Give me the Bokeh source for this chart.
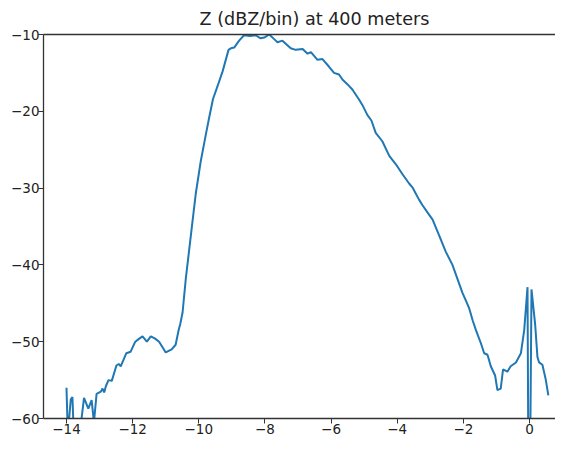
from bokeh.plotting import figure
from bokeh.models import Range1d, FixedTicker, LinearAxis
from bokeh.embed import file_html
from bokeh.resources import INLINE

title_text = "Z (dBZ/bin) at 400 meters"

doppler_velocity = [
    -14.00, -13.96, -13.87, -13.82, -13.78, -13.60, -13.47, -13.34, -13.24, -13.17,
    -13.09, -12.96, -12.91, -12.86, -12.81, -12.73, -12.63, -12.49, -12.42, -12.36,
    -12.19, -12.06, -11.92, -11.80, -11.70, -11.57, -11.45, -11.32, -11.20, -11.10,
    -11.00, -10.82, -10.70, -10.61, -10.56, -10.49, -10.39, -10.24, -10.09, -9.94,
    -9.79, -9.69, -9.57, -9.43, -9.28, -9.10, -9.03, -8.93, -8.78, -8.63,
    -8.45, -8.28, -8.13, -8.02, -7.87, -7.72, -7.62, -7.47, -7.22, -7.07,
    -6.86, -6.71, -6.61, -6.41, -6.26, -6.06, -5.91, -5.76, -5.65, -5.50,
    -5.35, -5.15, -5.05, -4.90, -4.78, -4.65, -4.45, -4.24, -4.04, -3.84,
    -3.64, -3.54, -3.44, -3.34, -3.24, -3.08, -2.93, -2.73, -2.53, -2.33,
    -2.13, -2.03, -1.93, -1.82, -1.72, -1.62, -1.47, -1.37, -1.27, -1.17,
    -1.04, -0.97, -0.87, -0.80, -0.67, -0.57, -0.41, -0.26, -0.16, -0.06,
    -0.03, 0.01, 0.06, 0.17, 0.24, 0.29, 0.39, 0.49, 0.57,
]
reflectivity = [
    -56.0, -62.0, -57.5, -57.2, -62.0, -62.0, -57.3, -58.7, -57.6, -60.5,
    -56.8, -56.5, -56.1, -56.6, -55.8, -55.0, -55.1, -53.1, -52.9, -53.2,
    -51.5, -51.3, -50.0, -49.6, -49.3, -50.0, -49.3, -49.6, -50.0, -50.7,
    -51.4, -51.0, -50.4, -48.5, -47.7, -46.2, -41.7, -36.2, -30.7, -26.5,
    -23.1, -20.9, -18.4, -16.7, -14.8, -12.0, -11.8, -11.7, -10.8, -10.1,
    -10.2, -10.1, -10.5, -10.4, -10.0, -10.6, -11.0, -10.8, -11.8, -12.0,
    -11.9, -12.5, -12.3, -13.3, -13.2, -14.2, -15.0, -15.2, -15.9, -16.5,
    -17.2, -18.5, -19.2, -20.5, -21.2, -22.8, -23.9, -25.8, -26.9, -28.2,
    -29.4, -29.9, -30.7, -31.5, -32.2, -33.2, -34.1, -36.2, -38.3, -40.0,
    -42.4, -43.6, -44.6, -45.7, -47.2, -48.5, -50.2, -51.5, -51.7, -53.2,
    -54.4, -56.3, -56.1, -53.6, -53.9, -53.2, -52.7, -51.5, -48.5, -42.9,
    -70.0, -70.0, -43.2, -47.7, -52.0, -52.7, -53.0, -54.9, -57.0,
]

x_ticks = [-14, -12, -10, -8, -6, -4, -2, 0]
x_tick_labels = ["\u221214", "\u221212", "\u221210", "\u22128", "\u22126", "\u22124", "\u22122", "0"]
y_ticks = [-60, -50, -40, -30, -20, -10]
y_tick_labels = ["\u221260", "\u221250", "\u221240", "\u221230", "\u221220", "\u221210"]

p = figure(width=555, height=436, output_backend="svg", toolbar_location=None,
           x_range=Range1d(-14.695, 0.786), y_range=Range1d(-60, -10),
           min_border_left=43, min_border_right=0, min_border_top=0, min_border_bottom=0,
           background_fill_color="white", border_fill_color="white")
p.outline_line_color = None
p.grid.visible = False

p.title.text = title_text
p.title.text_font = "DejaVu Sans"
p.title.text_font_size = "17.6px"
p.title.text_font_style = "normal"
p.title.text_color = "#222222"
p.title.align = "left"
p.title.offset = 156
p.title.standoff = 12

p.line(doppler_velocity, reflectivity, line_color="#1f77b4", line_width=2)

for ax, ticks, labels in ((p.xaxis[0], x_ticks, x_tick_labels), (p.yaxis[0], y_ticks, y_tick_labels)):
    ax.ticker = FixedTicker(ticks=ticks)
    ax.major_label_overrides = {t: l for t, l in zip(ticks, labels)}
    ax.major_label_text_font = "DejaVu Sans"
    ax.major_label_text_font_size = "13.5px"
    ax.major_label_text_color = "#222222"
    ax.axis_line_color = "#333333"
    ax.axis_line_width = 1.3
    ax.major_tick_line_color = "#333333"
    ax.major_tick_out = 5
    ax.major_tick_in = 0
    ax.minor_tick_line_color = None
    ax.major_label_standoff = 0
p.yaxis[0].major_label_standoff = -1

top = LinearAxis(ticker=FixedTicker(ticks=[]), major_label_text_font_size="0px",
                 major_tick_line_color=None, minor_tick_line_color=None,
                 axis_line_color="#333333", axis_line_width=1.3, major_label_standoff=0)
p.add_layout(top, "above")

open("out.html", "w").write(file_html(p, INLINE))
